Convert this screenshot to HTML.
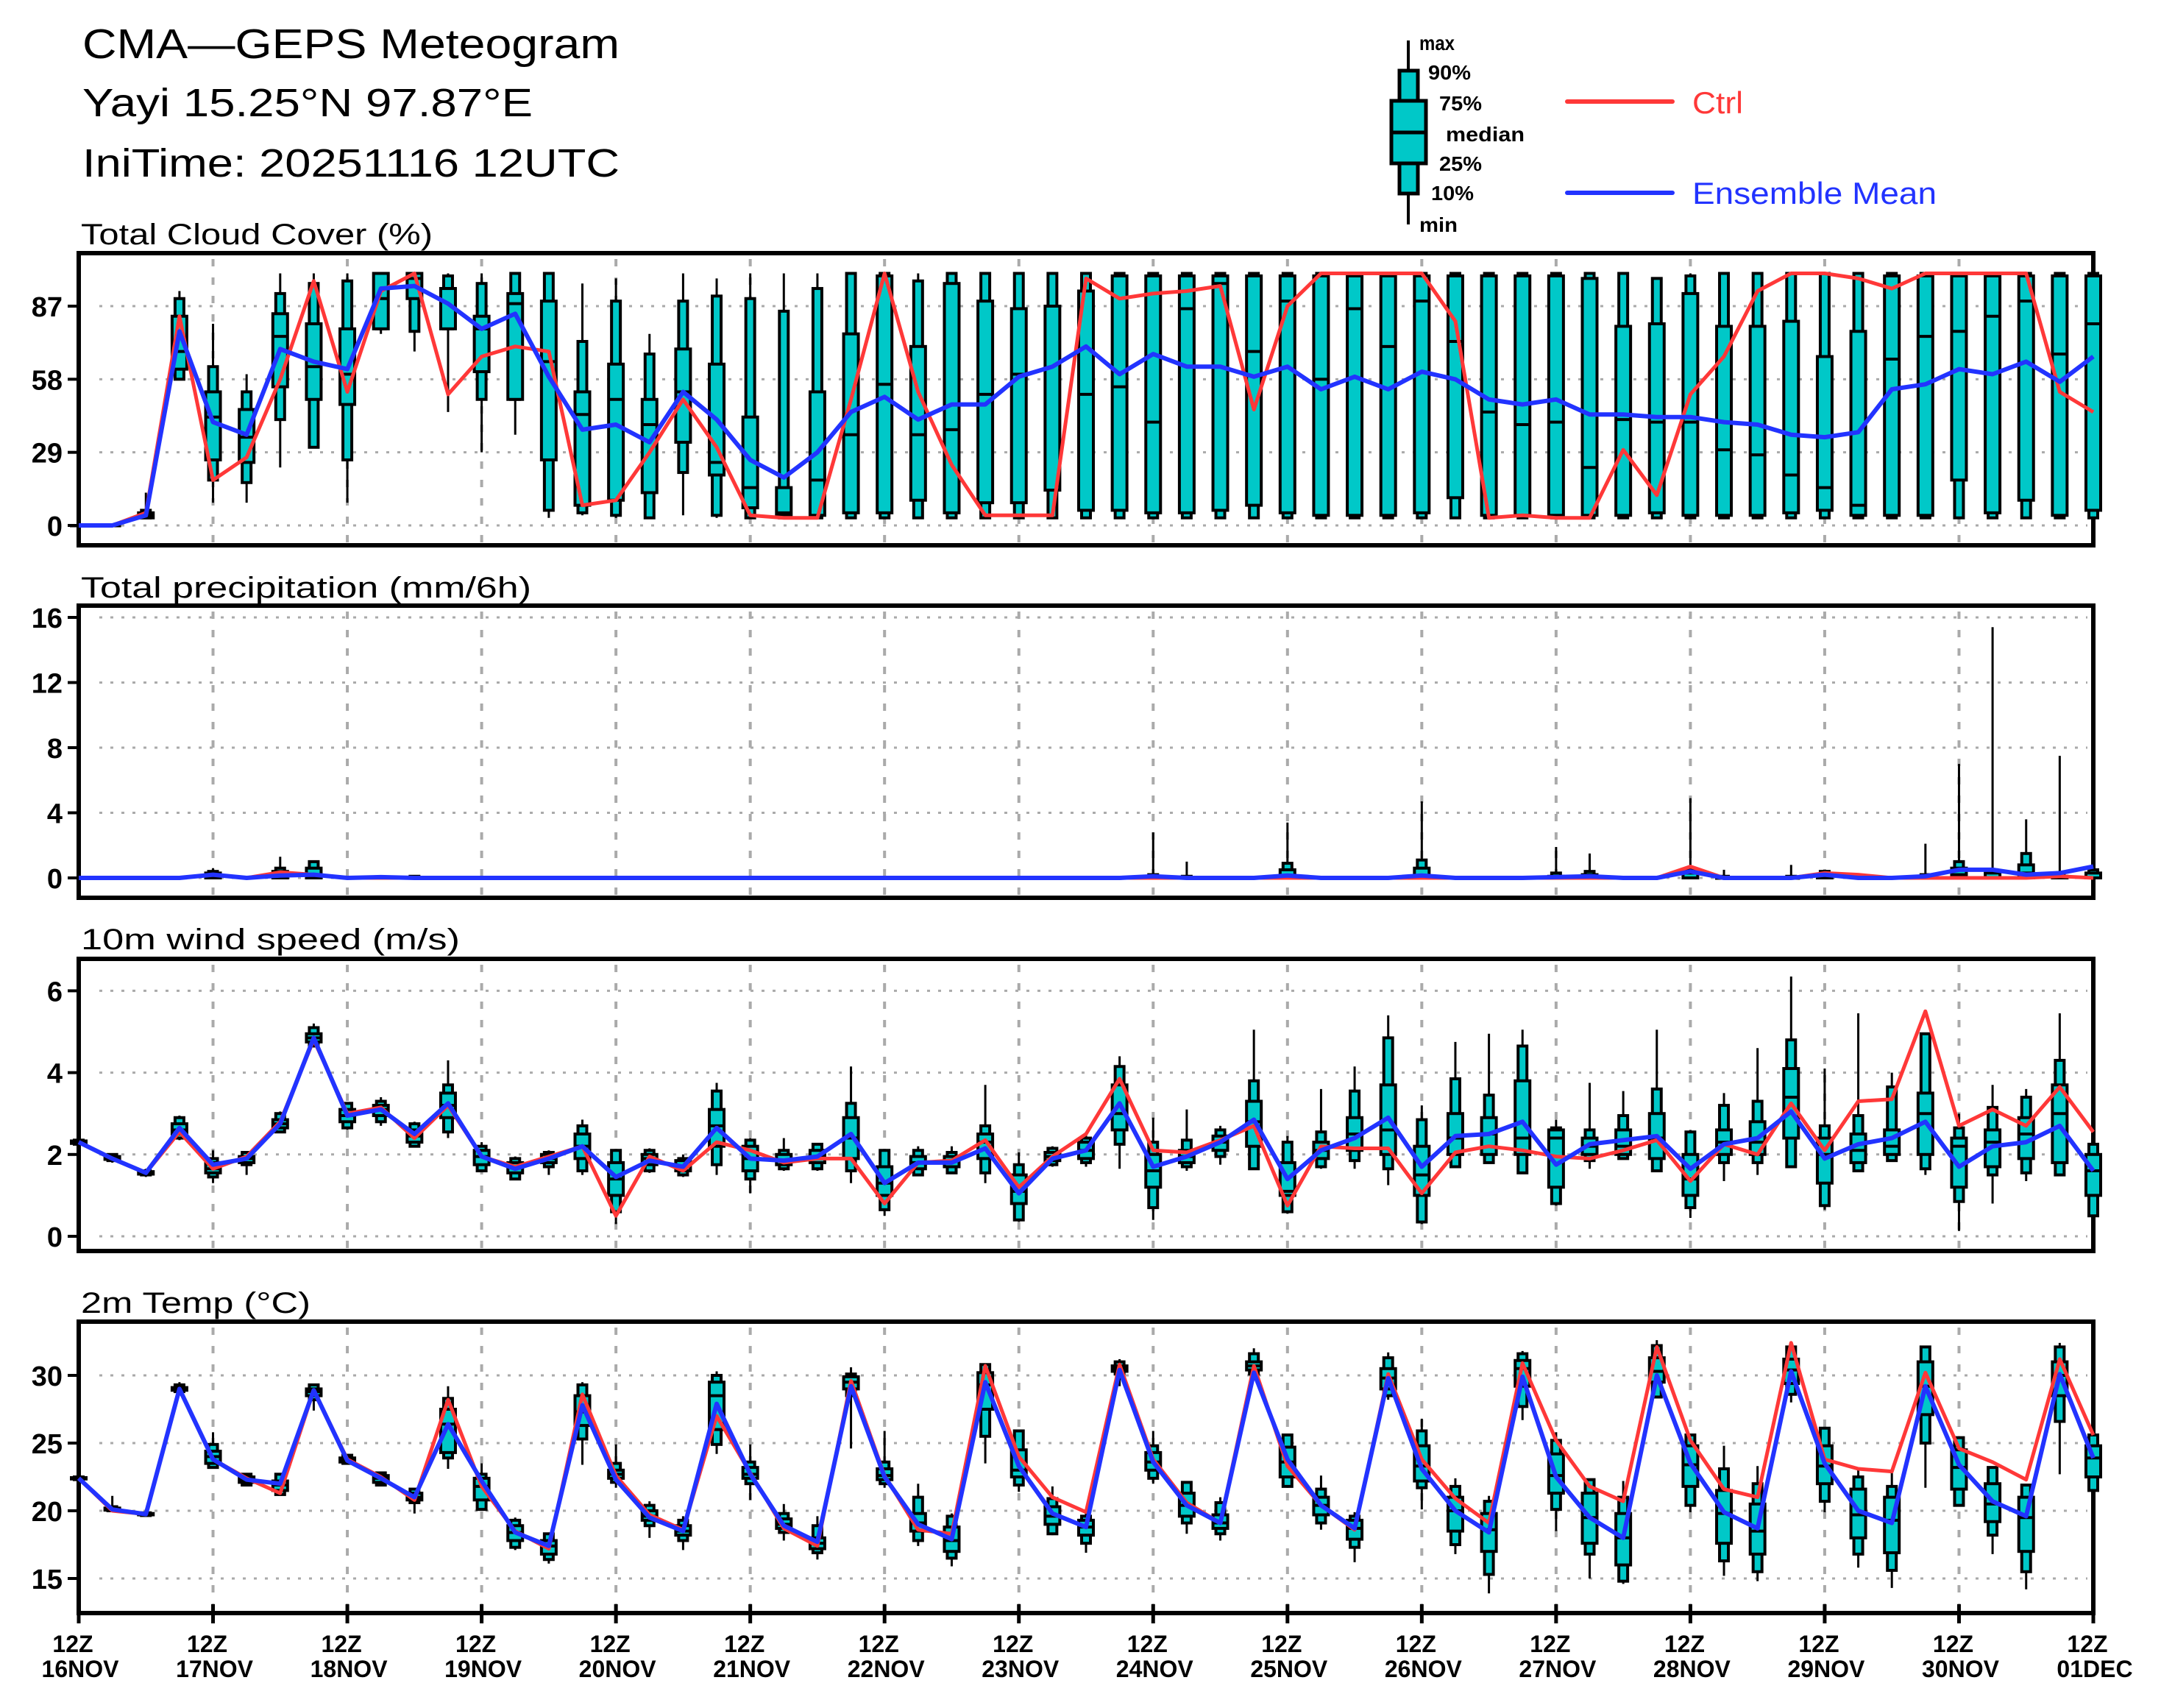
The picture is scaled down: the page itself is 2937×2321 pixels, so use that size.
<!DOCTYPE html>
<html>
<head>
<meta charset="utf-8">
<style>
html,body{margin:0;padding:0;background:#fff;}
svg{display:block;}
</style>
</head>
<body>
<svg id="chart" width="2937" height="2321" viewBox="0 0 2937 2321" xmlns="http://www.w3.org/2000/svg">
<rect x="0" y="0" width="2937" height="2321" fill="#fff"/>
<g font-family="Liberation Sans, sans-serif" fill="#000">
<text x="112" y="79" font-size="57" textLength="730" lengthAdjust="spacingAndGlyphs">CMA—GEPS Meteogram</text>
<text x="112" y="158" font-size="54" textLength="612" lengthAdjust="spacingAndGlyphs">Yayi 15.25°N 97.87°E</text>
<text x="112" y="240" font-size="54" textLength="730" lengthAdjust="spacingAndGlyphs">IniTime: 20251116 12UTC</text>
</g>
<g font-family="Liberation Sans, sans-serif">
<line x1="1914" y1="55" x2="1914" y2="305" stroke="#000" stroke-width="4"/>
<rect x="1902" y="96" width="25" height="167" fill="#00c8c8" stroke="#000" stroke-width="5"/>
<rect x="1891" y="137" width="47" height="85" fill="#00c8c8" stroke="#000" stroke-width="5"/>
<line x1="1891" y1="180" x2="1938" y2="180" stroke="#000" stroke-width="5"/>
<g font-size="28" font-weight="bold" fill="#000">
<text x="1929" y="68" textLength="48" lengthAdjust="spacingAndGlyphs">max</text>
<text x="1941" y="108" textLength="58" lengthAdjust="spacingAndGlyphs">90%</text>
<text x="1956" y="150" textLength="58" lengthAdjust="spacingAndGlyphs">75%</text>
<text x="1965" y="192" textLength="107" lengthAdjust="spacingAndGlyphs">median</text>
<text x="1956" y="232" textLength="58" lengthAdjust="spacingAndGlyphs">25%</text>
<text x="1945" y="272" textLength="58" lengthAdjust="spacingAndGlyphs">10%</text>
<text x="1929" y="315" textLength="52" lengthAdjust="spacingAndGlyphs">min</text>
</g>
<line x1="2130" y1="138" x2="2273" y2="138" stroke="#ff3838" stroke-width="6" stroke-linecap="round"/>
<text x="2300" y="154" font-size="42" fill="#ff3838" textLength="69" lengthAdjust="spacingAndGlyphs">Ctrl</text>
<line x1="2130" y1="262" x2="2273" y2="262" stroke="#2233ff" stroke-width="6" stroke-linecap="round"/>
<text x="2300" y="277" font-size="42" fill="#2233ff" textLength="332" lengthAdjust="spacingAndGlyphs">Ensemble Mean</text>
</g>
</svg>
<script>
// ---------- Time axis ----------
const dayLabels = ["16NOV","17NOV","18NOV","19NOV","20NOV","21NOV","22NOV","23NOV","24NOV","25NOV","26NOV","27NOV","28NOV","29NOV","30NOV","01DEC"];
const hourLabel = "12Z";

// ---------- Cloud cover (%) ----------
const cloudTicks = [0,29,58,87];
const cloudLo = [0,0,3,58,9,9,23,31,9,76,69,45,29,36,3,4,3,3,4,3,3,3,3,3,3,3,3,3,3,3,3, 3,3,3,3,3,3,3,3,3,3,3,3,3,3,3,3,3,3,3,3,3,3,3,3,3,3,3,3,3,3];
const cloudQ10 = [0,0,3,58,18,17,42,31,26,78,77,78,50,50,6,5,4,3,21,4,3,3,3,3,3,3,3,3,3,3,3, 3,3,3,3,3,3,3,3,3,3,3,3,3,3,3,3,3,3,3,3,3,3,3,3,3,3,3,3,3,3];
const cloudQ25 = [0,0,3,62,26,25,55,50,48,78,90,78,61,50,26,8,10,13,33,20,7,4,4,5,5,10,5,9,9,14,6, 6,5,5,6,8,5,4,4,4,5,11,4,4,4,4,4,5,4,4,4,5,6,4,4,4,18,5,10,4,6];
const cloudMed = [0,0,4,69,43,35,75,63,60,90,98,94,78,88,65,44,50,40,53,25,15,5,18,36,56,36,38,52,60,87,52, 55,41,86,96,69,89,58,86,71,89,73,45,40,41,23,42,41,41,30,28,20,15,8,66,75,77,83,89,68,80];
const cloudQ75 = [0,0,5,83,53,46,84,80,78,100,100,94,83,92,89,53,64,50,70,64,43,15,53,76,99,71,96,89,86,87,93, 99,99,99,99,99,99,99,99,99,99,99,99,99,99,98,79,80,92,79,79,81,67,77,99,99,99,99,99,99,99];
const cloudQ90 = [0,0,6,90,63,53,92,96,97,100,100,99,96,100,100,73,89,68,89,91,90,85,94,100,100,97,100,100,100,100,100, 100,100,100,100,100,100,100,100,100,100,100,100,100,100,100,100,98,99,100,100,100,100,100,100,100,100,100,100,100,100];
const cloudHi = [0,0,13,93,80,60,100,100,100,100,100,100,100,100,100,96,98,76,100,98,100,100,100,100,100,100,100,100,100,100,100, 100,100,100,100,100,100,100,100,100,100,100,100,100,100,100,100,98,100,100,100,100,100,100,100,100,100,100,100,100,100];
const cloudCtrl = [0,0,5,83,18,27,58,97,53,93,100,52,67,71,69,8,10,29,50,31,4,3,3,50,100,53,24,4,4,4,98, 90,92,93,95,46,87,100,100,100,100,81,3,4,3,3,30,12,52,67,93,100,100,98,94,100,100,100,100,53,45];
const cloudMean = [0,0,4,77,41,36,70,65,62,94,95,88,78,84,59,38,40,33,53,42,26,19,29,45,51,42,48,48,59,63,71, 60,68,63,63,59,63,54,59,54,61,58,50,48,50,44,44,43,43,41,40,36,35,37,54,56,62,60,65,57,67];

// ---------- Precipitation (mm/6h) ----------
const precipTicks = [0,4,8,12,16];
const precipLo = [0,0,0,0,0,0,0,0,0,0, 0,0,0,0,0,0,0,0,0,0, 0,0,0,0,0,0,0,0,0,0, 0,0,0,0,0,0,0,0,0,0, 0,0,0,0,0,0,0,0,0,0, 0,0,0,0,0,0,0,0,0,0, 0];
const precipQ10 = [0,0,0,0,0,0,0,0,0,0, 0,0,0,0,0,0,0,0,0,0, 0,0,0,0,0,0,0,0,0,0, 0,0,0,0,0,0,0,0,0,0, 0,0,0,0,0,0,0,0,0,0, 0,0,0,0,0,0,0,0,0,0, 0];
const precipQ25 = [0,0,0,0,0,0,0,0,0,0, 0,0,0,0,0,0,0,0,0,0, 0,0,0,0,0,0,0,0,0,0, 0,0,0,0,0,0,0,0,0,0, 0,0,0,0,0,0,0,0,0,0, 0,0,0,0,0,0,0,0,0,0, 0];
const precipMed = [0,0,0,0,0.1,0,0.1,0.2,0,0, 0,0,0,0,0,0,0,0,0,0, 0,0,0,0,0,0,0,0,0,0, 0,0,0,0,0,0,0,0,0,0, 0.1,0,0,0,0,0,0,0,0,0, 0,0,0,0,0,0,0.2,0,0.3,0, 0];
const precipQ75 = [0,0,0,0,0.3,0,0.4,0.6,0,0, 0,0,0,0,0,0,0,0,0,0, 0,0,0,0,0,0,0,0,0,0, 0,0,0.1,0,0,0,0.5,0,0,0, 0.6,0,0,0,0.1,0.2,0,0,0.3,0, 0,0,0.2,0,0,0,0.6,0.3,0.8,0.1, 0.3];
const precipQ90 = [0,0,0,0,0.4,0,0.6,1.0,0,0.05, 0.1,0,0,0,0,0,0,0,0,0, 0,0,0,0,0,0,0,0,0,0, 0,0,0.2,0.1,0,0,0.9,0,0,0, 1.1,0,0,0,0.3,0.4,0,0,0.5,0.1, 0,0.1,0.4,0,0,0.2,1.0,0.5,1.5,0.3, 0.5];
const precipHi = [0,0,0,0,0.6,0,1.3,1.0,0,0.1, 0.15,0,0,0,0,0,0,0,0,0, 0,0,0,0,0,0,0,0,0,0, 0,0,2.8,1.0,0,0,3.4,0,0,0, 4.7,0,0,0,1.9,1.5,0,0,4.9,0.5, 0,0.8,0.4,0,0,2.1,7.0,15.4,3.6,7.5, 4.9];
const precipCtrl = [0,0,0,0,0.2,0,0.35,0.2,0,0, 0,0,0,0,0,0,0,0,0,0, 0,0,0,0,0,0,0,0,0,0, 0,0,0,0,0,0,0,0,0,0, 0,0,0,0,0,0,0,0,0.7,0, 0,0,0.3,0.2,0,0,0,0,0,0.1, 0];
const precipMean = [0,0,0,0,0.2,0,0.15,0.2,0,0.05, 0,0,0,0,0,0,0,0,0,0, 0,0,0,0,0,0,0,0,0,0, 0,0,0.1,0,0,0,0.15,0,0,0, 0.15,0,0,0,0.05,0.1,0,0,0.4,0, 0,0,0.2,0,0,0.1,0.5,0.5,0.2,0.3, 0.7];

// ---------- 10m wind speed (m/s) ----------
const windTicks = [0,2,4,6];
const windLo = [2.2,1.8,1.45,2.35,1.3,1.5,2.55,4.65,2.6,2.7, 2.2,2.4,1.6,1.37,1.5,1.5,0.3,1.55,1.45,1.5, 1.05,1.6,1.6,1.3,0.5,1.5,1.55,1.3,0.35,1.7, 1.7,1.65,0.4,1.6,1.75,1.65,0.55,1.65,1.65,1.25, 0.3,1.7,1.8,1.55,0.75,1.65,1.9,1.6,0.45,1.35, 1.5,1.7,0.65,1.6,1.85,1.5,0.13,0.8,1.35,1.5, 0.5];
const windQ10 = [2.25,1.85,1.5,2.4,1.45,1.75,2.55,4.65,2.65,2.8, 2.2,2.55,1.6,1.4,1.7,1.6,0.6,1.6,1.5,1.75, 1.4,1.65,1.65,1.6,0.65,1.5,1.55,1.55,0.4,1.75, 1.8,2.25,0.7,1.7,1.95,1.65,0.6,1.7,1.85,1.65, 0.35,1.7,1.8,1.55,0.8,1.85,1.9,1.6,0.7,1.8, 1.8,1.7,0.75,1.6,1.85,1.65,0.85,1.5,1.55,1.5, 0.5];
const windQ25 = [2.27,1.88,1.52,2.5,1.55,1.8,2.65,4.75,2.8,2.95, 2.3,2.9,1.75,1.55,1.8,1.9,1.0,1.75,1.6,2.2, 1.6,1.75,1.8,1.9,1.0,1.65,1.7,1.9,0.8,1.85, 1.9,2.6,1.2,1.8,2.1,2.2,1.0,1.9,2.1,2.0, 1.0,2.0,2.0,2.0,1.2,2.0,2.0,1.9,1.0,2.0, 2.0,2.4,1.3,1.8,2.0,2.0,1.2,1.7,1.9,1.8, 1.0];
const windMed = [2.3,1.9,1.55,2.6,1.65,1.9,2.75,4.85,2.95,3.1, 2.45,3.2,1.95,1.7,1.9,2.2,1.4,1.9,1.7,2.7, 1.9,1.85,1.95,2.4,1.3,1.8,1.85,2.3,1.1,1.95, 2.1,3.0,1.6,1.95,2.3,2.8,1.1,2.1,2.5,2.6, 1.5,2.4,2.5,2.4,2.4,2.2,2.2,2.4,1.4,2.3, 2.3,3.4,2.0,2.1,2.2,3.0,2.2,2.3,2.5,3.0, 1.6];
const windQ75 = [2.33,1.95,1.58,2.75,1.8,1.95,2.85,4.95,3.1,3.2, 2.6,3.5,2.1,1.8,2.0,2.5,1.8,2.0,1.85,3.1, 2.2,2.0,2.1,2.9,1.7,1.95,1.95,2.5,1.5,2.05, 2.3,3.7,2.0,2.1,2.45,3.3,1.8,2.3,2.9,3.7, 2.2,3.0,2.9,3.8,2.6,2.4,2.6,3.0,2.0,2.6, 2.8,4.1,2.4,2.5,2.6,3.5,2.4,2.6,2.9,3.7, 2.0];
const windQ90 = [2.35,2.0,1.6,2.9,1.9,2.05,3.0,5.1,3.25,3.3, 2.75,3.7,2.2,1.9,2.05,2.7,2.1,2.1,1.9,3.55, 2.35,2.1,2.25,3.25,2.1,2.1,2.05,2.7,1.75,2.15, 2.4,4.15,2.3,2.35,2.6,3.8,2.3,2.55,3.55,4.85, 2.85,3.85,3.45,4.65,2.65,2.6,2.95,3.6,2.55,3.2, 3.3,4.8,2.7,2.95,3.65,4.95,2.65,3.15,3.4,4.3, 2.25];
const windHi = [2.4,2.0,1.65,2.95,2.1,2.05,3.05,5.2,3.25,3.4, 2.8,4.3,2.3,1.95,2.1,2.85,2.1,2.15,2.0,3.75, 2.4,2.4,2.25,4.15,2.1,2.2,2.2,3.7,2.05,2.2, 2.5,4.4,2.9,3.1,2.7,5.05,2.45,3.6,4.15,5.4, 3.2,4.75,4.95,5.05,2.85,3.75,3.55,5.05,2.6,3.5, 4.6,6.35,4.1,5.45,4.0,4.95,3.0,3.7,3.6,5.45, 2.6];
const windCtrl = [2.3,1.9,1.55,2.55,1.65,1.95,2.8,4.8,3.0,3.15, 2.4,3.2,1.95,1.7,1.95,2.2,0.5,1.95,1.6,2.3, 2.1,1.8,1.9,1.9,0.8,1.8,1.85,2.35,1.2,1.95, 2.5,3.85,2.1,2.05,2.35,2.7,0.75,2.2,2.15,2.15, 1.05,2.05,2.2,2.1,1.95,1.9,2.1,2.35,1.35,2.25, 2.0,3.25,2.1,3.3,3.35,5.5,2.7,3.1,2.7,3.65, 2.55];
const windMean = [2.3,1.9,1.55,2.65,1.75,1.9,2.75,4.85,2.95,3.1, 2.5,3.25,1.95,1.65,1.9,2.2,1.45,1.85,1.7,2.65, 1.9,1.85,1.95,2.5,1.3,1.8,1.8,2.15,1.05,1.9, 2.1,3.25,1.7,1.95,2.3,2.85,1.4,2.1,2.4,2.9, 1.7,2.45,2.5,2.8,1.75,2.25,2.35,2.45,1.65,2.25, 2.4,3.05,1.9,2.25,2.4,2.8,1.7,2.2,2.3,2.7, 1.6];

// ---------- 2m temperature (°C) ----------
const tempTicks = [15,20,25,30];
const tempLo = [22.2,19.9,19.6,28.7,23.1,21.8,21.1,27.4,23.4,21.8, 19.8,23.1,20.1,17.1,16.1,23.4,21.7,18.0,17.1,24.2, 20.8,17.8,16.4,24.6,21.7,17.4,15.9,23.5,21.4,18.2, 16.9,29.2,22.0,18.3,17.8,29.8,21.7,18.6,16.2,28.2, 20.1,16.8,13.9,26.7,18.5,15.0,14.6,28.4,19.9,15.2, 14.8,28.0,19.9,15.8,14.3,21.7,20.3,16.8,14.2,22.7, 21.5];
const tempQ10 = [22.3,20.0,19.65,28.8,23.2,21.9,21.2,28.2,23.5,21.9, 20.6,23.9,20.1,17.3,16.4,25.3,22.1,18.9,17.8,24.9, 22.0,18.4,16.9,28.5,22.0,17.8,16.5,25.5,21.9,18.3, 17.6,30.1,22.4,19.1,18.3,30.1,21.8,19.1,17.3,28.5, 21.7,17.5,15.3,27.7,20.1,16.8,14.8,28.4,20.4,16.3, 15.5,28.6,20.7,16.8,15.6,25.0,20.4,18.2,15.5,26.6, 21.5];
const tempQ25 = [22.35,20.05,19.7,28.9,23.5,22.1,21.5,28.5,23.6,22.1, 20.8,24.3,20.8,17.8,16.8,26.3,22.4,19.3,18.2,26.0, 22.4,18.7,17.2,29.0,22.3,18.5,17.0,27.5,22.5,19.0, 18.2,30.3,23.0,19.6,18.7,30.4,22.5,19.7,17.9,29.0, 22.2,18.5,17.0,29.2,21.3,17.6,16.0,29.5,21.8,17.6, 16.8,29.4,22.0,18.0,16.9,27.1,21.6,19.2,17.0,28.5, 22.5];
const tempMed = [22.4,20.1,19.75,29.0,24.0,22.3,21.9,28.8,23.8,22.4, 21.0,26.4,21.8,18.4,17.4,27.3,22.7,19.6,18.5,28.5, 22.7,19.0,17.6,29.5,22.6,19.1,17.8,29.3,23.0,19.6, 18.8,30.5,23.6,20.4,19.1,30.7,23.6,20.4,18.7,29.8, 23.3,20.0,18.6,30.5,22.6,19.5,18.0,30.3,23.4,19.8, 18.5,30.4,23.3,19.7,19.3,29.2,23.2,20.5,19.5,30.0, 23.9];
const tempQ75 = [22.45,20.2,19.8,29.1,24.4,22.5,22.2,29.0,23.9,22.6, 21.3,27.5,22.4,18.9,17.8,28.5,23.0,20.0,18.9,29.5, 23.2,19.4,18.0,29.9,23.1,19.8,18.8,30.2,24.5,20.3, 19.3,30.7,24.3,21.3,19.7,31.0,24.7,21.0,19.3,30.5, 24.8,21.0,19.8,31.1,24.2,21.3,19.8,31.3,24.8,21.5, 20.5,31.2,24.8,21.6,21.0,31.0,24.5,22.0,21.0,31.0, 24.8];
const tempQ90 = [22.5,20.3,19.85,29.3,24.9,22.7,22.7,29.3,24.1,22.8, 21.6,28.3,22.7,19.3,18.3,29.3,23.5,20.4,19.3,30.0, 23.6,19.8,18.9,30.1,23.6,21.0,19.6,30.8,25.9,20.9, 19.6,31.0,24.8,22.1,20.6,31.6,25.6,21.6,19.6,31.3, 25.9,21.8,20.7,31.6,25.2,22.3,21.0,32.2,25.6,23.1, 22.0,32.1,26.1,22.5,21.8,32.1,25.4,23.2,21.9,32.1, 25.6];
const tempHi = [22.6,21.1,19.9,29.5,25.8,22.8,22.7,29.3,24.2,22.9, 21.6,29.2,23.5,19.5,18.4,29.5,24.9,20.7,19.6,30.3, 24.9,20.5,19.6,30.6,25.9,22.0,19.8,30.9,25.9,21.8, 19.8,31.2,25.9,22.1,21.0,32.0,25.7,22.6,19.9,31.7, 26.8,22.4,21.1,31.8,25.8,22.3,22.2,32.6,25.6,24.8, 23.3,32.5,26.1,23.0,23.0,32.1,25.5,23.2,21.9,32.4, 25.6];
const tempCtrl = [22.4,20.0,19.75,29.0,23.8,22.4,21.3,28.9,23.8,22.5, 20.8,28.2,21.8,18.5,17.2,28.6,22.6,19.7,18.6,27.0, 22.8,18.7,17.4,29.6,22.6,18.6,18.3,30.7,24.0,21.0, 19.9,30.8,23.8,20.6,19.1,30.7,23.3,20.4,18.6,30.1, 23.8,20.9,19.1,30.9,25.2,21.8,20.7,32.1,25.2,21.6, 21.0,32.4,23.8,23.1,22.9,30.2,24.6,23.6,22.3,31.2, 25.6];
const tempMean = [22.4,20.1,19.75,29.0,23.8,22.3,22.0,28.9,23.7,22.4, 21.0,26.4,22.2,18.4,17.4,27.8,22.3,19.5,18.5,27.9, 22.7,18.9,17.7,29.2,22.5,19.0,17.9,29.5,23.3,19.8, 18.8,30.4,23.6,20.4,19.1,30.2,23.8,20.4,18.7,29.8, 23.1,20.0,18.4,29.9,22.5,19.5,18.0,30.0,23.5,19.9, 18.7,30.3,23.5,20.0,19.1,29.2,23.4,20.7,19.6,30.1, 23.9];

// ---------- Rendering ----------
const NS = "http://www.w3.org/2000/svg";
const svg = document.getElementById("chart");
const X0 = 107, X1 = 2845, NSTEP = 60;
function xAt(i){ return X0 + (X1 - X0) * i / NSTEP; }
function mk(tag, attrs, parent){
  const e = document.createElementNS(NS, tag);
  for (const k in attrs) e.setAttribute(k, attrs[k]);
  parent.appendChild(e);
  return e;
}

function drawPanel(p){
  const g = mk("g", {}, svg);
  
  
  const yAt = v => p.refY - (v - p.refV) * p.scale;

  const title = mk("text", {x: 110, y: p.titleY, "font-family": "Liberation Sans, sans-serif", "font-size": 40, textLength: p.titleLen, lengthAdjust: "spacingAndGlyphs"}, g);
  title.textContent = p.title;
  
  

  // horizontal grid + y ticks
  p.ticks.forEach(t => {
    const y = yAt(t);
    const gl = mk("line", {x1: X0 + 28, x2: X1 - 8, y1: y, y2: y, stroke: "#aaa", "stroke-width": 3, "stroke-dasharray": "4 11"}, g);
    
    
    const tk = mk("line", {x1: 92, x2: X0, y1: y, y2: y, stroke: "#000", "stroke-width": 4}, g);
    
    
    const lb = mk("text", {x: 85, y: y + 14, "text-anchor": "end", "font-family": "Liberation Sans, sans-serif", "font-weight": "bold", "font-size": 38}, g);
    lb.textContent = String(t);
    
    
  });
  // vertical day grid
  for (let d = 1; d < 15; d++){
    const x = xAt(d * 4);
    const vl = mk("line", {x1: x, x2: x, y1: p.top + 8, y2: p.bottom, stroke: "#aaa", "stroke-width": 4, "stroke-dasharray": "10 15"}, g);
    
    
  }
  // frame
  const fr = mk("rect", {x: X0, y: p.top, width: X1 - X0, height: p.bottom - p.top, fill: "none", stroke: "#000", "stroke-width": 6}, g);
  
  

  // boxes
  const bg = mk("g", {}, g);
  
  
  for (let i = 0; i <= NSTEP; i++){
    if (p.skipZero && p.hi[i] <= 0) continue;
    const x = xAt(i);
    const box = mk("g", {}, bg);
    
    
    mk("line", {x1: x, x2: x, y1: yAt(p.lo[i]), y2: yAt(p.hi[i]), stroke: "#000", "stroke-width": 3}, box);
    const y90 = yAt(p.q90[i]), y10 = yAt(p.q10[i]);
    mk("rect", {x: x - 6, y: y90, width: 12, height: Math.max(0.5, y10 - y90), fill: "#00c8c8", stroke: "#000", "stroke-width": 4}, box);
    const y75 = yAt(p.q75[i]), y25 = yAt(p.q25[i]);
    mk("rect", {x: x - 10, y: y75, width: 20, height: Math.max(0.5, y25 - y75), fill: "#00c8c8", stroke: "#000", "stroke-width": 4}, box);
    const ym = yAt(p.med[i]);
    mk("line", {x1: x - 10, x2: x + 10, y1: ym, y2: ym, stroke: "#000", "stroke-width": 4}, box);
  }
  // lines
  const ptsC = p.ctrl.map((v, i) => xAt(i).toFixed(1) + "," + yAt(v).toFixed(1)).join(" ");
  const lc = mk("polyline", {points: ptsC, fill: "none", stroke: "#ff3838", "stroke-width": 5, "stroke-linejoin": "round"}, g);
  
  
  const ptsM = p.mean.map((v, i) => xAt(i).toFixed(1) + "," + yAt(v).toFixed(1)).join(" ");
  const lm = mk("polyline", {points: ptsM, fill: "none", stroke: "#2233ff", "stroke-width": 6, "stroke-linejoin": "round"}, g);
  
  
}

drawPanel({name: "cloud", title: "Total Cloud Cover (%)", titleY: 332, titleLen: 478, top: 344, bottom: 741, refV: 0, refY: 714, scale: 3.425, ticks: cloudTicks,
  lo: cloudLo, q10: cloudQ10, q25: cloudQ25, med: cloudMed, q75: cloudQ75, q90: cloudQ90, hi: cloudHi, ctrl: cloudCtrl, mean: cloudMean});
drawPanel({name: "precip", title: "Total precipitation (mm/6h)", titleY: 812, titleLen: 612, top: 823, bottom: 1220, refV: 0, refY: 1193, scale: 22.125, ticks: precipTicks, skipZero: true,
  lo: precipLo, q10: precipQ10, q25: precipQ25, med: precipMed, q75: precipQ75, q90: precipQ90, hi: precipHi, ctrl: precipCtrl, mean: precipMean});
drawPanel({name: "wind", title: "10m wind speed (m/s)", titleY: 1290, titleLen: 515, top: 1303, bottom: 1700, refV: 0, refY: 1680, scale: 55.6, ticks: windTicks,
  lo: windLo, q10: windQ10, q25: windQ25, med: windMed, q75: windQ75, q90: windQ90, hi: windHi, ctrl: windCtrl, mean: windMean});
drawPanel({name: "temp", title: "2m Temp (°C)", titleY: 1784, titleLen: 312, top: 1796, bottom: 2192, refV: 30, refY: 1869, scale: 18.4, ticks: tempTicks,
  lo: tempLo, q10: tempQ10, q25: tempQ25, med: tempMed, q75: tempQ75, q90: tempQ90, hi: tempHi, ctrl: tempCtrl, mean: tempMean});

// x-axis ticks and labels
const xg = mk("g", {"font-family": "Liberation Sans, sans-serif", "font-weight": "bold", "font-size": 32, "text-anchor": "middle"}, svg);


dayLabels.forEach((lab, d) => {
  const x = xAt(d * 4);
  const tk = mk("line", {x1: x, x2: x, y1: 2180, y2: 2206, stroke: "#000", "stroke-width": 5}, xg);
  
  
  const h = mk("text", {x: x - 8, y: 2245}, xg);
  h.textContent = hourLabel;
  
  
  const t = mk("text", {x: x + 2, y: 2279}, xg);
  t.textContent = lab;
  
  
});
</script>
</body>
</html>
